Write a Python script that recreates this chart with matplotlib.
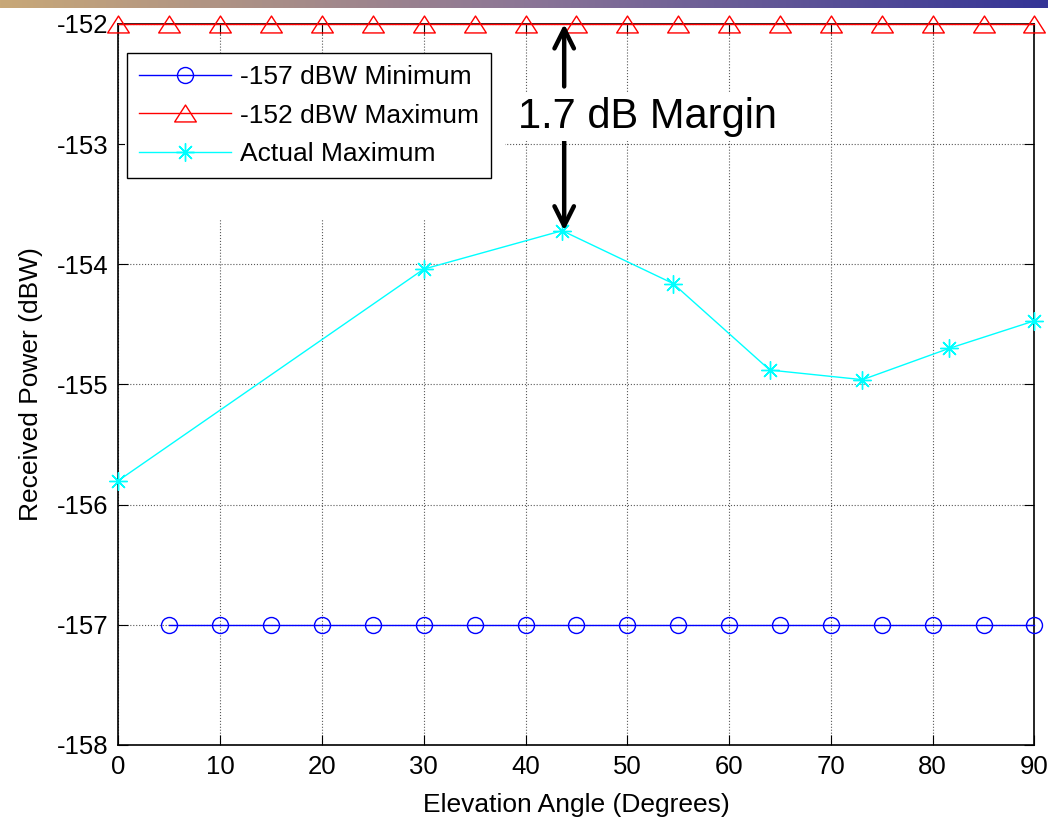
import matplotlib
matplotlib.use("Agg")
import matplotlib.pyplot as plt
import numpy as np
from matplotlib.patches import Rectangle
from matplotlib.path import Path

plt.rcParams['font.family'] = ['Liberation Sans', 'DejaVu Sans']
plt.rcParams['axes.unicode_minus'] = False

# ---- data ----
min_angles = [5, 10, 15, 20, 25, 30, 35, 40, 45, 50, 55, 60, 65, 70, 75, 80, 85, 90]
min_power = [-157] * len(min_angles)
max_angles = [0, 5, 10, 15, 20, 25, 30, 35, 40, 45, 50, 55, 60, 65, 70, 75, 80, 85, 90]
max_power = [-152] * len(max_angles)
act_angles = [0, 30, 43.6, 54.5, 64.0, 73.1, 81.6, 90]
act_power = [-155.80, -154.04, -153.72, -154.16, -154.88, -154.96, -154.70, -154.47]
labels = ['-157 dBW Minimum', '-152 dBW Maximum', 'Actual Maximum']
x_ticks = [0, 10, 20, 30, 40, 50, 60, 70, 80, 90]
y_ticks = [-158, -157, -156, -155, -154, -153, -152]
margin_text = '1.7 dB Margin'
xlabel = 'Elevation Angle (Degrees)'
ylabel = 'Received Power (dBW)'

fig = plt.figure(figsize=(10.48, 8.19), dpi=100)

# top gradient bar
gax = fig.add_axes([0, 1 - 8 / 819, 1, 8 / 819])
stops = np.array([[200, 168, 120], [140, 118, 150], [52, 52, 150]]) / 255.0
t = np.linspace(0, 1, 512)
grad = np.stack([np.interp(t, [0, 0.5, 1], stops[:, c]) for c in range(3)], axis=-1)
gax.imshow(grad[np.newaxis, :, :], aspect='auto', extent=[0, 1, 0, 1])
gax.axis('off')

ax = fig.add_axes([0.1129, 0.0904, 0.8742, 0.8803])
ax.set_axisbelow(True)

tri = Path([(-1, -0.78), (1, -0.78), (0, 0.78), (-1, -0.78)],
           [Path.MOVETO, Path.LINETO, Path.LINETO, Path.CLOSEPOLY])

l1, = ax.plot(min_angles, min_power, color='#0000ff', lw=1.0, marker='o',
              markersize=11.5, markerfacecolor='none', markeredgewidth=1.0,
              clip_on=False, zorder=3)
l2, = ax.plot(max_angles, max_power, color='#ff0000', lw=1.0, marker=tri,
              markersize=15.6, markerfacecolor='none', markeredgewidth=1.0,
              clip_on=False, zorder=3)
l3, = ax.plot(act_angles, act_power, color='#00ffff', lw=1.0, marker=(8, 2, 0),
              markersize=13, markeredgewidth=1.0, clip_on=False, zorder=3)

ax.set_xlim(0, 90)
ax.set_ylim(-158, -152)
ax.set_xticks(x_ticks)
ax.set_yticks(y_ticks)
ax.grid(True, linestyle=':', color='0.35', linewidth=0.8)
ax.tick_params(direction='in', length=7, width=0.8, top=True, right=True,
               labelsize=18.5, pad=7)
for s in ax.spines.values():
    s.set_linewidth(1.2)

ax.set_xlabel(xlabel, fontsize=19, labelpad=10)
ax.set_ylabel(ylabel, fontsize=19, labelpad=10)

# white mask region beneath legend (as in the reference)
ax.add_patch(Rectangle((0.0073, 0.728), 0.415, 0.231, transform=ax.transAxes,
                       facecolor='white', edgecolor='none', zorder=1))

leg = ax.legend([l1, l2, l3], labels, loc='upper left',
                bbox_to_anchor=(0.0095, 0.9594), borderaxespad=0,
                fontsize=19, handlelength=3.5, handletextpad=0.35,
                borderpad=0.45, labelspacing=0.55, fancybox=False,
                framealpha=1, edgecolor='black', numpoints=1)
leg.get_frame().set_linewidth(1.0)
leg.set_zorder(5)

# margin annotation
ipk = int(np.argmax(act_power))
pk_x = act_angles[ipk]
pk_y = act_power[ipk]
top_y = max_power[0]
ax.annotate('', xy=(pk_x + 0.2, top_y), xytext=(pk_x + 0.2, -152.52),
            arrowprops=dict(arrowstyle='->,head_length=0.5,head_width=0.25',
                            lw=3.2, color='black', mutation_scale=28,
                            shrinkA=0, shrinkB=0), zorder=4)
ax.annotate('', xy=(pk_x + 0.2, pk_y), xytext=(pk_x + 0.2, -152.95),
            arrowprops=dict(arrowstyle='->,head_length=0.5,head_width=0.25',
                            lw=3.2, color='black', mutation_scale=28,
                            shrinkA=0, shrinkB=0), zorder=4)
ax.text(52.0, -152.867, margin_text, fontsize=30, ha='center', va='baseline',
        bbox=dict(facecolor='white', edgecolor='none', pad=3), zorder=4)

fig.savefig('out.png', dpi=100)
